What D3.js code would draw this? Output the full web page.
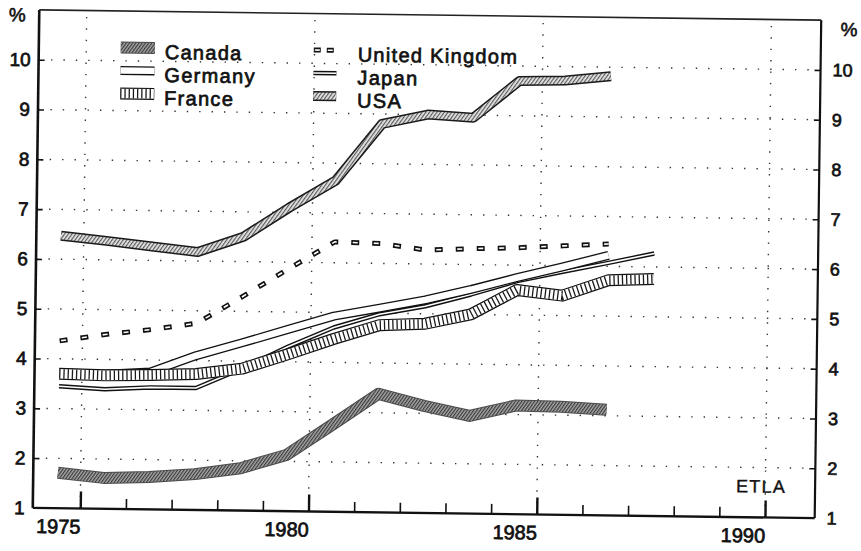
<!DOCTYPE html>
<html>
<head>
<meta charset="utf-8">
<style>
  body { margin: 0; background: #fff; }
  svg text { font-family: "Liberation Sans", Arial, sans-serif; fill: #111; }
</style>
</head>
<body>
<div id="chart"></div>
<script src="https://d3js.org/d3.v7.min.js"></script>
<script>
// years: each value is plotted at mid-year
const years = [1974, 1975, 1976, 1977, 1978, 1979, 1980, 1981, 1982, 1983, 1984, 1985, 1986, 1987];
const canada  = [1.71, 1.62, 1.65, 1.72, 1.85, 2.13, 2.75, 3.38, 3.15, 2.96, 3.18, 3.17, 3.12];
const germany = [3.72, 3.70, 3.76, 4.10, 4.37, 4.65, 4.93, 5.10, 5.28, 5.50, 5.75, 5.98, 6.22];
const france  = [3.70, 3.68, 3.70, 3.73, 3.85, 4.15, 4.47, 4.76, 4.80, 5.00, 5.50, 5.40, 5.72, 5.76];
const uk      = [4.36, 4.50, 4.61, 4.75, 5.30, 5.87, 6.42, 6.40, 6.28, 6.32, 6.35, 6.40, 6.45];
const japan   = [3.45, 3.40, 3.45, 3.45, 3.85, 4.30, 4.70, 4.98, 5.15, 5.40, 5.68, 5.88, 6.07, 6.27];
const usa     = [6.47, 6.38, 6.28, 6.18, 6.50, 7.10, 7.65, 8.80, 9.00, 8.95, 9.70, 9.72, 9.82];

const yTicks = [1, 2, 3, 4, 5, 6, 7, 8, 9, 10];
const xTicks = d3.range(1975, 1991);
const gridYears = [1975, 1980, 1985, 1990];

const width = 861, height = 551;
const plotL = 36, plotR = 818, plotT = 15, plotB = 513;

const svg = d3.select("#chart").append("svg")
  .attr("width", width)
  .attr("height", height)
  .style("background", "#fff");

const defs = svg.append("defs");
function hatch(id, bg, fg, size, bar) {
  const p = defs.append("pattern").attr("id", id)
    .attr("patternUnits", "userSpaceOnUse")
    .attr("width", size).attr("height", size)
    .attr("patternTransform", "rotate(35)");
  p.append("rect").attr("width", size).attr("height", size).attr("fill", bg);
  p.append("rect").attr("width", bar).attr("height", size).attr("fill", fg);
}
hatch("hatchDark", "#a8a8a8", "#3a3a3a", 2.6, 1.2);
hatch("hatchLight", "#e6e6e6", "#5a5a5a", 3, 1.2);

// the scanned page is slightly tilted
const g = svg.append("g").attr("transform", "rotate(0.75 427 263)");

const x = d3.scaleLinear().domain([1973.96, 1991.09]).range([plotL, plotR]);
const y = d3.scaleLinear().domain([1, 11]).range([plotB, plotT]);

// dotted grid
g.append("g").selectAll("line")
  .data(yTicks.slice(1))
  .join("line")
  .attr("x1", plotL).attr("x2", plotR)
  .attr("y1", d => y(d)).attr("y2", d => y(d))
  .attr("stroke", "#333").attr("stroke-width", 1.4)
  .attr("stroke-dasharray", "1.4 11");

g.append("g").selectAll("line")
  .data(gridYears)
  .join("line")
  .attr("x1", d => x(d)).attr("x2", d => x(d))
  .attr("y1", plotB).attr("y2", plotT)
  .attr("stroke", "#333").attr("stroke-width", 1.4)
  .attr("stroke-dasharray", "1.4 10");

// axes
const yl = g.append("g").attr("transform", `translate(${plotL},0)`)
  .call(d3.axisLeft(y).tickValues(yTicks).tickSize(-6).tickPadding(8).tickSizeOuter(0));
const yr = g.append("g").attr("transform", `translate(${plotR},0)`)
  .call(d3.axisRight(y).tickValues(yTicks).tickSize(-6).tickPadding(12).tickSizeOuter(0));
const xb = g.append("g").attr("transform", `translate(0,${plotB})`)
  .call(d3.axisBottom(x).tickValues(xTicks).tickSize(-10).tickPadding(11).tickSizeOuter(0)
    .tickFormat(d => d % 5 === 0 ? d : ""));

[yl, yr, xb].forEach(a => {
  a.select(".domain").remove();
  a.selectAll(".tick line").attr("stroke", "#111").attr("stroke-width", 1.6);
  a.selectAll(".tick text").attr("fill", "#111")
    .attr("stroke", "#111").attr("stroke-width", 0.7);
});
yl.selectAll(".tick text").style("font-size", "19px");
yr.selectAll(".tick text").style("font-size", "18px");
xb.selectAll(".tick text").style("font-size", "20px").attr("text-anchor", "end");
xb.selectAll(".tick").filter(d => d % 5 === 0).select("line")
  .attr("y2", -17).attr("stroke-width", 2.4);
yl.selectAll(".tick").filter(d => d === 1).select("line").remove();
yr.selectAll(".tick").filter(d => d === 1).select("line").remove();

// frame
g.append("line").attr("x1", plotL).attr("x2", plotL).attr("y1", plotT).attr("y2", plotB)
  .attr("stroke", "#111").attr("stroke-width", 2.6);
g.append("line").attr("x1", plotR).attr("x2", plotR).attr("y1", plotT).attr("y2", plotB)
  .attr("stroke", "#111").attr("stroke-width", 2.2);
g.append("line").attr("x1", plotL).attr("x2", plotR).attr("y1", plotB).attr("y2", plotB)
  .attr("stroke", "#111").attr("stroke-width", 2.4);
g.append("line").attr("x1", plotL).attr("x2", plotR).attr("y1", plotT).attr("y2", plotT)
  .attr("stroke", "#222").attr("stroke-width", 1.6);

// series
const styles = {
  Canada: [{ c: "#4a4a4a", w: 12 }, { c: "url(#hatchDark)", w: 10 }],
  USA: [{ c: "#1a1a1a", w: 10 }, { c: "url(#hatchLight)", w: 7 }],
  "United Kingdom": [{ c: "#111", w: 5, dash: "8 13" }, { c: "#fff", w: 1.6, dash: "5 16", off: -1.5 }],
  Japan: [{ c: "#111", w: 4.5 }, { c: "#fff", w: 1.6 }],
  Germany: [{ c: "#111", w: 9 }, { c: "#fff", w: 6.4 }],
  France: [{ c: "#111", w: 12 }, { c: "#fff", w: 9.6 }, { c: "#1a1a1a", w: 9.6, dash: "1.3 2.9" }]
};

const series = [
  { name: "Canada", values: canada },
  { name: "USA", values: usa },
  { name: "United Kingdom", values: uk },
  { name: "Japan", values: japan },
  { name: "Germany", values: germany },
  { name: "France", values: france }
];

const line = d3.line()
  .x((d, i) => x(years[i] + 0.5))
  .y(d => y(d));

function drawLayers(sel, d, layers) {
  layers.forEach(l => {
    sel.append("path")
      .attr("d", d)
      .attr("fill", "none")
      .attr("stroke", l.c)
      .attr("stroke-width", l.w)
      .attr("stroke-linejoin", "round")
      .attr("stroke-linecap", "butt")
      .attr("stroke-dasharray", l.dash || null)
      .attr("stroke-dashoffset", l.off || null);
  });
}

series.forEach(s => {
  drawLayers(g.append("g"), line(s.values), styles[s.name]);
});

// legend
const legendItems = [
  { name: "Canada", col: 0, row: 0 },
  { name: "Germany", col: 0, row: 1 },
  { name: "France", col: 0, row: 2 },
  { name: "United Kingdom", col: 1, row: 0 },
  { name: "Japan", col: 1, row: 1 },
  { name: "USA", col: 1, row: 2 }
];
const legCols = [{ x0: 118, x1: 152, tx: 162 }, { x0: 311, x1: 334, tx: 355 }];
const legRows = [55.5, 78.5, 101.5];

const legend = g.append("g");
legendItems.forEach(it => {
  const c = legCols[it.col], ty = legRows[it.row];
  let layers = styles[it.name];
  if (it.name === "United Kingdom") {
    layers = [{ c: "#111", w: 5, dash: "7 6" }, { c: "#fff", w: 1.6, dash: "5 8", off: -1 }];
  }
  drawLayers(legend.append("g"), d3.line()([[c.x0, ty - 4], [c.x1, ty - 4]]), layers);
  legend.append("text")
    .attr("x", c.tx).attr("y", ty).attr("dy", "0.35em")
    .style("font-size", "20px").style("letter-spacing", "1.3px")
    .attr("stroke", "#111").attr("stroke-width", 0.7)
    .text(it.name);
});

// unit labels and source
g.append("text").attr("x", 14).attr("y", 20).attr("dy", "0.35em")
  .attr("text-anchor", "middle").style("font-size", "19px")
  .attr("stroke", "#111").attr("stroke-width", 0.6).text("%");
g.append("text").attr("x", 846).attr("y", 24).attr("dy", "0.35em")
  .attr("text-anchor", "middle").style("font-size", "19px")
  .attr("stroke", "#111").attr("stroke-width", 0.6).text("%");
g.append("text").attr("x", 764).attr("y", 482).attr("dy", "0.35em")
  .attr("text-anchor", "middle").style("font-size", "18px").style("letter-spacing", "1.2px")
  .attr("stroke", "#111").attr("stroke-width", 0.4)
  .text("ETLA");
</script>
</body>
</html>
